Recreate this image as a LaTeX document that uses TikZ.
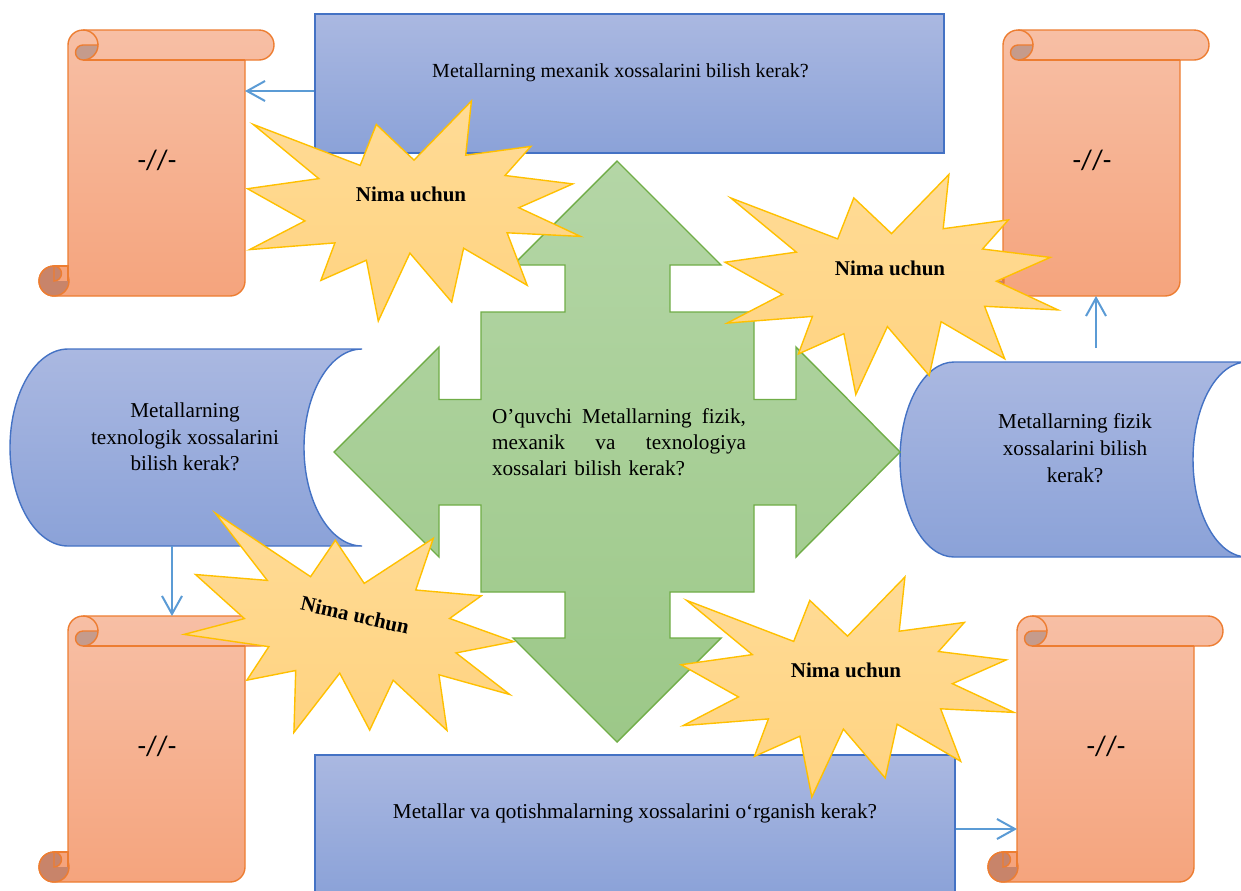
\documentclass[tikz,border=0pt]{standalone}
\usepackage{fontspec}
\setmainfont{Liberation Serif}
\newfontfamily\scrollfont{Carlito}
\usetikzlibrary{arrows.meta}

\definecolor{boxtop}{RGB}{170,184,225}
\definecolor{boxbot}{RGB}{139,162,216}
\definecolor{boxline}{RGB}{68,114,196}
\definecolor{crosstop}{RGB}{180,214,166}
\definecolor{crossbot}{RGB}{156,200,136}
\definecolor{crossline}{RGB}{112,173,71}
\definecolor{scrolltop}{RGB}{247,191,165}
\definecolor{scrollbot}{RGB}{245,164,125}
\definecolor{scrollline}{RGB}{237,125,49}
\definecolor{curltop}{RGB}{197,155,140}
\definecolor{curlbot}{RGB}{200,132,106}
\definecolor{startop}{RGB}{255,219,150}
\definecolor{starbot}{RGB}{255,211,128}
\definecolor{starline}{RGB}{255,192,0}
\definecolor{linkcolor}{RGB}{91,155,213}

\tikzset{
    qbox/.style={draw=boxline, line width=0.7pt, top color=boxtop, bottom color=boxbot, inner sep=0pt},
    can/.style={draw=boxline, line width=0.7pt, top color=boxtop, bottom color=boxbot},
    cross/.style={draw=crossline, line width=0.7pt, top color=crosstop, bottom color=crossbot},
    paper/.style={draw=scrollline, line width=0.7pt, top color=scrolltop, bottom color=scrollbot},
    curl/.style={draw=scrollline, line width=0.7pt, fill=#1},
    burst/.style={draw=starline, line width=0.7pt, top color=startop, bottom color=starbot},
    qtext/.style={font=\fontsize{10.6}{13.25}\selectfont, align=center, inner sep=0pt},
    nima/.style={font=\fontsize{10.5}{12}\selectfont\bfseries, inner sep=0pt},
    link/.style={draw=linkcolor, line width=1pt, -{Straight Barb[length=9pt, width=10pt]}},
}
\tikzset{
    pics/scroll/.style={code={
            %draw body and top roll
            \path[paper] (0,15) arc[start angle=180, end angle=270, radius=15] -- (191,0)
                arc[start angle=-90, end angle=90, radius=15] -- (177,30) -- (177,251)
                arc[start angle=0, end angle=90, radius=15] -- (-14,266)
                arc[start angle=90, end angle=270, radius=15] -- (0,236) -- cycle;
            \draw[scrollline, line width=0.7pt] (177,30) -- (15,30);
            %draw top curl
            \draw[scrollline, line width=0.7pt] (15,0) arc[start angle=-90, end angle=0, radius=15];
            \path[curl=curltop] (15,15) -- (30,15) arc[start angle=0, end angle=90, radius=15]
                arc[start angle=90, end angle=270, radius=7.5] -- cycle;
            %draw bottom curl
            \path[curl=curlbot] (-14,251) circle[radius=15];
            \fill[scrollbot] (-14,236) rectangle (0,251);
            \draw[scrollline, line width=0.7pt] (-14,236) -- (0,236) -- (0,251);
            \path[curl=curlbot] (-14,236) arc[start angle=-90, end angle=90, radius=7.5] -- cycle;
            \node[font=\scrollfont\fontsize{14}{16}\selectfont] (-txt) at (89,130) {-//-};
            \coordinate (-east) at (177,133);
            \coordinate (-west) at (0,133);
            \coordinate (-north) at (88,0);
            \coordinate (-south) at (88,266);
        }},
    pics/boom/.style={code={
            \path[burst] (0,-50.9) -- (-37.7,-86.6) -- (-53.8,-45.6) -- (-160.8,-86.6) -- (-95.2,-32.4)
                -- (-166.5,-22.3) -- (-109.1,9.9) -- (-164.4,38.6) -- (-79.1,31.9) -- (-93.1,69.4)
                -- (-47.6,49.2) -- (-35.7,110) -- (-4.1,42.1) -- (37.7,91) -- (49.6,37.2)
                -- (113.2,74.3) -- (93.1,21.8) -- (166.5,25.4) -- (104.9,-3.3) -- (158.7,-27.1)
                -- (91,-35.5) -- (116.9,-64.6) -- (51.7,-55.8) -- (57.4,-110) -- cycle;
        }},
}

\begin{document}
\begin{tikzpicture}[x=0.5pt, y=-0.5pt]
    \useasboundingbox (0,0) rectangle (1241,890);
    %draw scrolls
    \pic (s1) at (68,30) {scroll};
    \pic (s2) at (1003,30) {scroll};
    \pic (s3) at (68,616) {scroll};
    \pic (s4) at (1017,616) {scroll};
    %draw question boxes
    \node[qbox, minimum width=314.5pt, minimum height=69.5pt,
        label={[qtext, font=\fontsize{10}{12}\selectfont, xshift=-4.5pt, yshift=5.5pt]center:Metallarning mexanik xossalarini bilish kerak?}] (mexanik) at (629.5,83.5) {};
    \node[qbox, minimum width=320pt, minimum height=69.5pt,
        label={[qtext, yshift=5.75pt]center:Metallar va qotishmalarning xossalarini o‘rganish kerak?}] (organish) at (635,824.5) {};
    %draw cylinders
    \path[can] (68,349) -- (362,349) arc[start angle=270, end angle=90, x radius=58, y radius=98.5]
        -- (68,546) arc[start angle=90, end angle=270, x radius=58, y radius=98.5] -- cycle;
    \node[qtext] (texno) at (185,437) {Metallarning\\texnologik xossalarini\\bilish kerak?};
    \path[can] (954,362) -- (1247,362) arc[start angle=270, end angle=90, x radius=54, y radius=97.5]
        -- (954,557) arc[start angle=90, end angle=270, x radius=54, y radius=97.5] -- cycle;
    \node[qtext, font=\fontsize{10.6}{13.5}\selectfont] (fizik) at (1075,448) {Metallarning fizik\\xossalarini bilish\\kerak?};
    \coordinate (texno-s) at (172,546);
    \coordinate (fizik-n) at (1096,362);
    %draw central arrow
    \path[cross] (617,161) -- (721,265) -- (670,265) -- (670,312) -- (754,312) -- (754,399.5)
        -- (796,399.5) -- (796,347) -- (900,452) -- (796,557) -- (796,505) -- (754,505)
        -- (754,592) -- (670,592) -- (670,638) -- (721,638) -- (617,742) -- (513,638)
        -- (565,638) -- (565,592) -- (481,592) -- (481,505) -- (439,505) -- (439,557)
        -- (334,452) -- (439,347) -- (439,399.5) -- (481,399.5) -- (481,312) -- (565,312)
        -- (565,265) -- (513,265) -- cycle;
    \node[qtext, font=\fontsize{10.6}{13}\selectfont, text width=127pt, align=left] (pupil) at (619,442)
        {\makebox[127pt]{O’quvchi\hfill Metallarning\hfill fizik,}\\\makebox[127pt]{mexanik\hfill va\hfill texnologiya}\\xossalari bilish kerak?};
    %draw bursts
    \pic at (414,211) {boom};
    \pic at (891.5,284.5) {boom};
    \pic[rotate=-12.75] at (353,633) {boom};
    \pic at (847.5,687) {boom};
    \node[nima] (why1) at (411,194) {Nima uchun};
    \node[nima] (why2) at (890,268) {Nima uchun};
    \node[nima, rotate=-12.75] (why3) at (355,615) {Nima uchun};
    \node[nima] (why4) at (846,670) {Nima uchun};
    %draw links
    \draw[link] ([yshift=-3.75pt]mexanik.west) -- ([yshift=-3.75pt]mexanik.west -| s1-east);
    \draw[link] ([yshift=7pt]fizik-n) -- (fizik-n |- s2-south);
    \draw[link] (texno-s) -- (texno-s |- s3-north);
    \draw[link] ([yshift=-2.25pt]organish.east) -- ([yshift=-2.25pt]organish.east -| s4-west);
\end{tikzpicture}
\end{document}
